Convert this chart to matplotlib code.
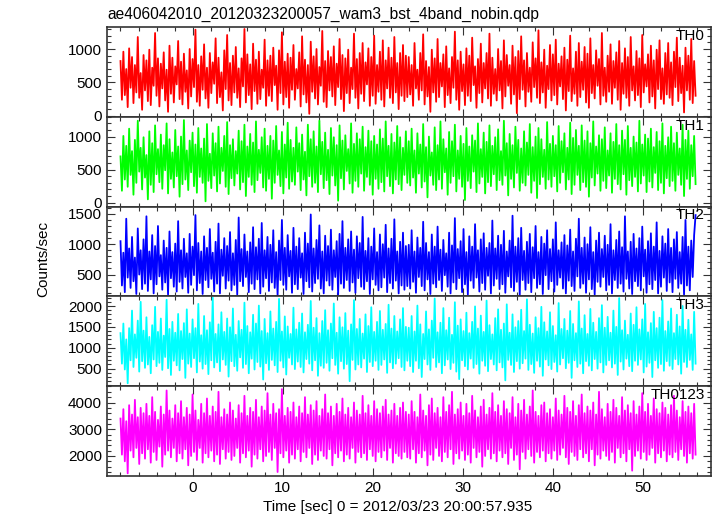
import numpy as np
import matplotlib
matplotlib.use("Agg")
from matplotlib import pyplot as plt
from matplotlib.ticker import MultipleLocator

plt.rcParams['font.family'] = ['Liberation Sans', 'DejaVu Sans']

title = "ae406042010_20120323200057_wam3_bst_4band_nobin.qdp"
x_label = "Time [sec] 0 = 2012/03/23 20:00:57.935"
y_label = "Counts/sec"

t_start = -8.0
t_step = 0.16

band_names = ["TH0", "TH1", "TH2", "TH3", "TH0123"]
band_colors = ["#ff0000", "#00ff00", "#0000ff", "#00ffff", "#ff00ff"]

th0 = [820, 240, 960, 310, 700, 130, 1010, 420, 880, 190, 760, 350, 1180, 270, 640, 90, 910, 380, 830, 220,
       990, 160, 720, 450, 1240, 300, 860, 140, 780, 410, 950, 230, 690, 60, 1050, 330, 870, 200, 740, 470,
       1120, 250, 810, 170, 930, 360, 680, 110, 1000, 290, 850, 430, 1290, 210, 760, 150, 890, 390, 1070, 260,
       720, 120, 940, 340, 800, 480, 1160, 190, 870, 280, 650, 80, 980, 400, 1210, 230, 790, 160, 900, 350,
       1030, 270, 710, 130, 860, 440, 1300, 200, 920, 310, 770, 100, 1080, 370, 840, 180, 960, 250, 690, 420,
       1140, 150, 830, 300, 900, 220, 1020, 460, 750, 90, 980, 340, 1250, 170, 810, 280, 930, 120, 870, 390,
       1060, 240, 700, 410, 950, 140, 1190, 320, 840, 200, 760, 30, 1110, 360, 890, 260, 1000, 170, 730, 450,
       1270, 210, 820, 130, 970, 380, 880, 290, 1040, 160, 780, 430, 1150, 250, 910, 70, 860, 340, 990, 190,
       720, 400, 1230, 270, 850, 110, 940, 330, 1090, 220, 800, 470, 1010, 150, 880, 300, 1200, 180, 760, 360,
       960, 240, 1130, 140, 830, 410, 1020, 270, 870, 190, 1180, 350, 790, 100, 940, 300, 1060, 220, 900, 280,
       880, 320, 760, 150, 1090, 410, 690, 240, 940, 380, 1220, 170, 820, 290, 730, 60, 990, 350, 860, 210,
       1150, 280, 790, 440, 920, 130, 1040, 310, 710, 190, 880, 420, 1260, 240, 830, 90, 960, 370, 770, 160,
       1010, 300, 900, 220, 1170, 460, 740, 120, 850, 340, 1080, 200, 790, 410, 940, 260, 1230, 150, 870, 330,
       700, 230, 1000, 380, 820, 110, 1130, 290, 910, 450, 760, 180, 1050, 320, 880, 40, 970, 250, 1190, 390,
       830, 140, 940, 360, 720, 210, 1100, 430, 860, 270, 1280, 190, 800, 350, 990, 120, 750, 400, 1060, 230,
       920, 310, 1140, 170, 780, 440, 890, 250, 1020, 80, 840, 370, 1200, 220, 710, 330, 960, 150, 1090, 280,
       810, 390, 1030, 200, 930, 120, 1160, 340, 760, 260, 980, 450, 850, 170, 1240, 300, 720, 210, 900, 360,
       1070, 180, 820, 420, 950, 240, 1120, 90, 790, 330, 1010, 270, 880, 150, 1180, 380, 740, 230, 970, 310,
       860, 130, 1210, 350, 770, 440, 920, 200, 1050, 290, 830, 110, 990, 400, 1130, 250, 710, 180, 940, 320,
       1090, 270, 800, 160, 960, 430, 1170, 220, 870, 340, 750, 50, 1020, 380, 900, 240, 1150, 190, 820, 300]

th1 = [700, 180, 1010, 350, 860, 240, 1120, 420, 780, 120, 950, 300, 1240, 470, 830, 200, 990, 380, 720, 50,
       1080, 270, 900, 160, 1170, 430, 810, 310, 1030, 210, 870, 490, 1200, 140, 960, 360, 760, 230, 1100, 400,
       850, 90, 1000, 280, 1250, 350, 790, 190, 940, 460, 1060, 250, 880, 150, 1130, 390, 820, 300, 970, 20,
       1190, 330, 740, 220, 1050, 410, 900, 170, 1150, 290, 830, 480, 1010, 240, 1220, 130, 870, 370, 960, 260,
       780, 440, 1090, 200, 930, 310, 1180, 100, 850, 390, 1040, 270, 910, 160, 1230, 340, 800, 450, 990, 230,
       1120, 180, 860, 360, 1010, 60, 940, 300, 1160, 420, 790, 250, 1070, 140, 880, 380, 1210, 210, 950, 320,
       830, 270, 1140, 470, 900, 190, 1030, 350, 770, 110, 1180, 400, 960, 240, 1080, 300, 850, 160, 1240, 430,
       920, 220, 1060, 340, 800, 130, 1130, 410, 990, 260, 870, 30, 1170, 370, 940, 200, 1020, 480, 810, 290,
       1200, 150, 890, 330, 1050, 240, 960, 440, 1150, 180, 840, 390, 1090, 270, 930, 120, 1010, 360, 880, 210,
       1110, 310, 970, 170, 1230, 400, 860, 250, 1040, 140, 910, 350, 1160, 280, 990, 190, 830, 420, 1080, 300,
       930, 260, 1120, 380, 790, 150, 1050, 440, 880, 230, 1190, 320, 840, 80, 1000, 410, 760, 270, 1140, 190,
       870, 350, 1230, 210, 960, 460, 820, 120, 1070, 300, 930, 400, 1180, 170, 790, 360, 1010, 240, 890, 40,
       1130, 330, 850, 220, 1020, 470, 940, 160, 1200, 290, 810, 390, 1060, 140, 920, 310, 1170, 250, 860, 430,
       990, 190, 1110, 340, 780, 270, 1240, 410, 900, 110, 1040, 360, 870, 230, 1150, 450, 950, 180, 820, 300,
       1080, 260, 910, 420, 1190, 150, 840, 330, 1000, 70, 1130, 280, 960, 390, 800, 210, 1220, 350, 890, 240,
       1010, 400, 870, 170, 1160, 300, 930, 460, 1050, 200, 830, 350, 1210, 130, 980, 270, 1100, 420, 860, 190,
       1170, 310, 940, 240, 1080, 90, 900, 380, 1230, 260, 850, 440, 1020, 180, 960, 330, 1140, 220, 790, 410,
       1050, 150, 920, 360, 1190, 280, 870, 200, 1090, 430, 950, 120, 1160, 340, 830, 250, 1000, 390, 910, 170,
       1240, 290, 880, 410, 1030, 160, 970, 320, 1120, 230, 840, 450, 1070, 190, 930, 300, 1200, 140, 860, 370,
       990, 250, 1150, 330, 900, 180, 1060, 420, 820, 270, 1180, 100, 950, 360, 1090, 210, 870, 400, 1010, 280]

th2 = [1050, 320, 860, 210, 1420, 450, 930, 280, 1120, 390, 780, 180, 1260, 500, 900, 260, 1080, 350, 1460, 230,
       880, 420, 1150, 190, 970, 340, 1300, 470, 820, 250, 1060, 370, 940, 170, 1210, 440, 870, 300, 1010, 220,
       1380, 380, 900, 270, 1090, 460, 850, 200, 1170, 330, 960, 490, 1480, 240, 1020, 360, 880, 180, 1130, 410,
       940, 290, 1250, 430, 860, 220, 1040, 350, 1340, 190, 910, 480, 1100, 270, 970, 400, 1200, 240, 850, 330,
       1070, 170, 1440, 390, 920, 310, 1160, 460, 880, 210, 1030, 350, 1280, 260, 950, 420, 1090, 190, 1350, 300,
       900, 440, 1120, 230, 990, 370, 1230, 280, 870, 160, 1060, 410, 1400, 330, 940, 250, 1150, 470, 890, 200,
       1270, 340, 960, 260, 1100, 450, 850, 180, 1190, 390, 1010, 290, 1490, 220, 930, 360, 1070, 430, 1310, 270,
       880, 190, 1140, 400, 970, 320, 1240, 250, 900, 460, 1050, 170, 1170, 350, 1380, 280, 940, 410, 1080, 230,
       1210, 370, 910, 200, 1130, 440, 1020, 300, 1450, 260, 890, 390, 1100, 180, 960, 420, 1260, 330, 870, 240,
       1160, 290, 1000, 450, 1320, 210, 930, 360, 1090, 270, 1410, 400, 880, 190, 1040, 320, 1190, 250, 970, 310,
       990, 270, 1230, 380, 880, 200, 1110, 460, 940, 310, 1370, 240, 1020, 420, 870, 180, 1160, 350, 960, 290,
       1290, 410, 910, 230, 1070, 490, 850, 300, 1190, 190, 980, 370, 1430, 260, 920, 440, 1050, 210, 1250, 340,
       870, 170, 1130, 400, 960, 280, 1330, 450, 900, 220, 1080, 360, 1180, 250, 940, 480, 1020, 190, 1390, 320,
       930, 430, 1140, 260, 990, 340, 1220, 200, 880, 470, 1060, 290, 1470, 230, 960, 380, 1100, 160, 1270, 410,
       890, 250, 1040, 360, 1170, 210, 950, 440, 1300, 280, 870, 340, 1120, 180, 1010, 490, 1230, 260, 920, 390,
       1080, 220, 1360, 330, 900, 450, 1030, 270, 1150, 190, 980, 400, 1240, 310, 880, 230, 1090, 470, 1420, 280,
       940, 350, 1110, 200, 1000, 420, 1280, 260, 870, 170, 1060, 380, 1190, 300, 920, 460, 1140, 240, 990, 330,
       1330, 190, 900, 410, 1070, 280, 1210, 350, 950, 220, 1460, 430, 880, 270, 1040, 180, 1170, 390, 930, 310,
       1100, 240, 1290, 470, 910, 200, 1050, 340, 1180, 260, 960, 410, 1360, 190, 890, 300, 1130, 450, 1010, 230,
       1250, 370, 940, 210, 1080, 430, 1200, 280, 870, 350, 1120, 170, 1400, 320, 960, 240, 1060, 460, 1150, 1480]

th3 = [1350, 620, 1580, 480, 1200, 150, 1470, 700, 1890, 540, 1320, 760, 1650, 430, 2100, 680, 1410, 520, 1730, 600,
       1260, 390, 1540, 720, 1980, 560, 1380, 640, 1700, 470, 1290, 780, 2150, 510, 1450, 350, 1620, 690, 1360, 580,
       1810, 460, 1400, 730, 1590, 280, 1920, 620, 1340, 540, 1680, 750, 1470, 410, 2050, 670, 1300, 500, 1760, 610,
       1420, 370, 1610, 700, 2200, 530, 1330, 650, 1560, 440, 1850, 720, 1380, 590, 1700, 310, 1490, 680, 1940, 560,
       1310, 450, 1640, 770, 1430, 520, 2080, 610, 1520, 390, 1370, 740, 1790, 480, 1580, 660, 2010, 550, 1400, 240,
       1690, 630, 1350, 470, 1870, 710, 1460, 580, 1620, 420, 2170, 690, 1390, 530, 1750, 360, 1510, 760, 1330, 600,
       1960, 490, 1440, 670, 1600, 540, 1820, 410, 1370, 730, 1550, 620, 2120, 460, 1480, 700, 1710, 330, 1350, 570,
       1640, 520, 1900, 640, 1420, 450, 1580, 750, 2060, 590, 1360, 380, 1730, 680, 1490, 500, 1830, 610, 1410, 200,
       1560, 710, 2140, 480, 1450, 600, 1690, 530, 1340, 740, 1800, 420, 1520, 660, 1970, 560, 1380, 690, 1620, 470,
       1880, 590, 1430, 720, 1570, 400, 2030, 650, 1460, 510, 1760, 620, 1390, 750, 1680, 540, 1950, 460, 1500, 690,
       1480, 560, 1760, 420, 1390, 690, 2010, 510, 1560, 300, 1330, 730, 1870, 600, 1440, 470, 1650, 760, 2180, 540,
       1370, 650, 1600, 390, 1950, 580, 1420, 720, 1720, 490, 1310, 640, 2090, 430, 1530, 250, 1680, 700, 1400, 560,
       1840, 480, 1350, 740, 1620, 520, 1990, 610, 1460, 380, 1770, 690, 1380, 570, 2130, 440, 1540, 730, 1320, 600,
       1710, 460, 1920, 650, 1430, 530, 1580, 220, 2040, 710, 1360, 590, 1800, 420, 1490, 680, 1640, 500, 1910, 630,
       1400, 740, 2160, 470, 1550, 610, 1340, 400, 1730, 690, 1470, 550, 1980, 330, 1610, 720, 1390, 580, 1850, 490,
       1520, 660, 1300, 430, 2070, 600, 1450, 750, 1690, 510, 1410, 640, 1880, 280, 1570, 700, 1350, 540, 2110, 620,
       1460, 390, 1780, 680, 1330, 570, 1930, 460, 1600, 730, 1380, 500, 1710, 650, 2020, 410, 1480, 590, 1740, 700,
       1360, 530, 1890, 620, 1500, 350, 2190, 670, 1420, 480, 1650, 740, 1310, 560, 1820, 440, 1550, 690, 1970, 590,
       1440, 720, 1680, 410, 2050, 550, 1370, 640, 1590, 300, 1860, 700, 1470, 520, 1720, 610, 2140, 450, 1400, 680,
       1630, 570, 1940, 490, 1350, 730, 1790, 600, 1510, 380, 2000, 660, 1430, 540, 1670, 710, 1320, 470, 1860, 620]

th0123 = [3400, 2050, 3750, 1800, 3300, 1350, 3900, 2200, 3550, 1950, 4100, 2300, 3450, 1700, 3800, 2100, 3600, 1900, 3950, 2250,
          3500, 1750, 4200, 2150, 3650, 1850, 3350, 2350, 3850, 1600, 3550, 2050, 4450, 2200, 3700, 1950, 3400, 2300, 3900, 1800,
          3600, 2100, 4050, 1900, 3450, 2250, 3800, 1650, 3550, 2000, 4300, 2150, 3700, 1850, 3350, 2300, 3950, 1750, 3600, 2100,
          4150, 1950, 3500, 2200, 3850, 1800, 3650, 2050, 4400, 1700, 3450, 2250, 3750, 1900, 3550, 2150, 4000, 1850, 3700, 2000,
          3400, 2300, 3900, 1750, 3600, 2100, 4250, 1950, 3500, 2200, 3800, 1600, 3650, 2050, 4100, 1900, 3450, 2250, 3850, 1800,
          3700, 2000, 4350, 2150, 3550, 1850, 3950, 2300, 3600, 1400, 3750, 2100, 4500, 1950, 3500, 2200, 3800, 1750, 3650, 2050,
          4000, 1900, 3450, 2250, 3850, 1800, 3600, 2150, 4200, 1950, 3550, 2300, 3900, 1700, 3700, 2050, 4050, 1850, 3500, 2200,
          3750, 2000, 4300, 1900, 3600, 2250, 3850, 1650, 3500, 2100, 3950, 1950, 3650, 2200, 4150, 1800, 3550, 2050, 3800, 1900,
          3450, 2300, 4000, 1750, 3700, 2150, 3550, 1950, 4250, 2100, 3600, 1850, 3900, 2250, 3500, 2000, 4050, 1800, 3750, 2150,
          3600, 1950, 3850, 2200, 4100, 1850, 3550, 2300, 3700, 1750, 3950, 2100, 3500, 2000, 3800, 1900, 4000, 2150, 3650, 1950,
          3550, 1900, 4050, 2250, 3650, 1750, 3450, 2100, 4300, 1950, 3700, 2200, 3500, 1650, 3900, 2050, 4150, 1850, 3600, 2300,
          3800, 2000, 3450, 1800, 4200, 2150, 3650, 1950, 3900, 2250, 4400, 1700, 3550, 2100, 3750, 1900, 4000, 2200, 3500, 1850,
          3950, 2050, 3600, 1750, 4250, 2300, 3700, 1950, 3450, 2150, 3850, 1600, 4100, 2000, 3550, 2250, 3800, 1900, 4350, 2100,
          3650, 1800, 3900, 2200, 3500, 1950, 4050, 2100, 3750, 1700, 3600, 2300, 4200, 1850, 3450, 2050, 3950, 1500, 3700, 2150,
          4100, 1900, 3550, 2250, 3850, 2000, 4450, 1750, 3650, 2150, 3500, 1950, 3900, 2200, 4000, 1800, 3600, 2100, 3750, 1900,
          3450, 2200, 4150, 1850, 3700, 2050, 3550, 2300, 4250, 1950, 3800, 1700, 3650, 2150, 4050, 2000, 3500, 1850, 3900, 2250,
          4300, 1950, 3600, 2100, 3850, 1800, 3700, 2250, 4000, 1650, 3550, 2050, 4400, 1900, 3750, 2200, 3450, 2000, 3950, 1850,
          3650, 2150, 4100, 1750, 3800, 2300, 3500, 1950, 4200, 2100, 3700, 1800, 3900, 2250, 3600, 1450, 4050, 2000, 3550, 2200,
          3850, 1900, 4350, 2150, 3650, 1850, 3950, 2050, 3500, 2300, 4150, 1750, 3750, 2100, 3600, 1950, 4000, 2200, 3800, 1800,
          3550, 2050, 3900, 1950, 4250, 2150, 3700, 1850, 3450, 2250, 4050, 2000, 3650, 1750, 3850, 2100, 3600, 1900, 3950, 2050]

band_values = [th0, th1, th2, th3, th0123]
y_limits = [(-15, 1330), (-60, 1300), (140, 1620), (80, 2230), (1250, 4610)]
y_major = [500, 500, 500, 500, 1000]
y_minor = [100, 100, 100, 100, 200]


def main():
    fig = plt.figure(figsize=(7.17, 5.16), dpi=100)
    gs = fig.add_gridspec(5, 1, left=0.1492, right=0.9916, top=0.9477, bottom=0.0775, hspace=0)

    for i, (name, color, values) in enumerate(zip(band_names, band_colors, band_values)):
        ax = fig.add_subplot(gs[i])
        values = np.array(values)
        time = t_start + t_step * np.arange(len(values))
        ax.plot(time, values, color=color, linewidth=1.3)

        ax.set_xlim(-9.5, 57.55)
        ax.set_ylim(*y_limits[i])
        ax.xaxis.set_major_locator(MultipleLocator(10))
        ax.xaxis.set_minor_locator(MultipleLocator(2))
        ax.yaxis.set_major_locator(MultipleLocator(y_major[i]))
        ax.yaxis.set_minor_locator(MultipleLocator(y_minor[i]))
        ax.tick_params(which='both', direction='in', top=True, right=True, labelsize=11,
                       colors='#333333', labelcolor='black')
        ax.tick_params(which='major', length=6, width=0.8)
        ax.tick_params(which='minor', length=3, width=0.8)
        for spine in ax.spines.values():
            spine.set_linewidth(1.2)
            spine.set_color('#333333')
        if i < 4:
            ax.tick_params(labelbottom=False)

        ax.text(0.99, 0.98, name, transform=ax.transAxes, ha='right', va='top', fontsize=11)

    fig.text(107 / 717, 1 - 14 / 516, title, ha='left', va='center', fontsize=11.2)
    fig.text(43 / 717, 1 - 259 / 516, y_label, rotation=90, ha='center', va='center', fontsize=11)
    fig.text(398 / 717, 1 - 507 / 516, x_label, ha='center', va='center', fontsize=11)

    fig.savefig("out.png", dpi=100)


if __name__ == "__main__":
    main()
